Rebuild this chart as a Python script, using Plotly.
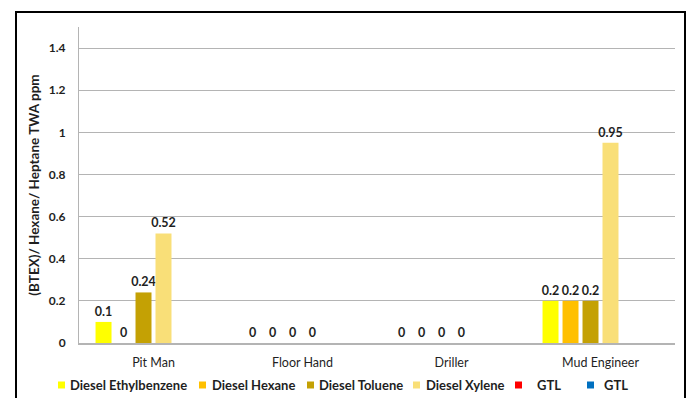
import plotly.graph_objects as go

# Job roles along the x axis
roles = ["Pit Man", "Floor Hand", "Driller", "Mud Engineer"]

# Time-weighted average exposure (ppm) per series
diesel_ethylbenzene = [0.1, 0, 0, 0.2]
diesel_hexane = [0, 0, 0, 0.2]
diesel_toluene = [0.24, 0, 0, 0.2]
diesel_xylene = [0.52, 0, 0, 0.95]
gtl_red = [None, None, None, None]
gtl_blue = [None, None, None, None]

y_ticks = [0, 0.2, 0.4, 0.6, 0.8, 1, 1.2, 1.4]

series = [
    ("Diesel Ethylbenzene", diesel_ethylbenzene, "#FFFF00"),
    ("Diesel Hexane", diesel_hexane, "#FFC000"),
    ("Diesel Toluene", diesel_toluene, "#C4A104"),
    ("Diesel Xylene", diesel_xylene, "#F9DF78"),
    ("GTL", gtl_red, "#FF0000"),
    ("GTL", gtl_blue, "#0070C0"),
]

FONT = "Lato, 'Open Sans', sans-serif"
TEXT = "#1F1F1F"
GRID = "#B4B4B4"

W, H = 691, 398
ML, MR, MT, MB = 79, 16, 27, 55
PW, PH = W - ML - MR, H - MT - MB


def px_x(px):
    """Horizontal pixel position -> paper fraction."""
    return (px - ML) / PW


def px_y(py):
    """Vertical pixel position (from top) -> paper fraction."""
    return (H - MB - py) / PH


fig = go.Figure()
for name, vals, color in series:
    labels = [("" if v is None else f"{v:g}") for v in vals]
    fig.add_trace(go.Bar(
        x=roles, y=vals, name=name,
        marker=dict(color=color, line=dict(width=0)),
        text=labels, textposition="outside",
        textfont=dict(family=FONT, size=12.5, color=TEXT, weight="bold"),
        constraintext="none", cliponaxis=False, showlegend=False,
    ))

fig.update_layout(
    width=W, height=H,
    margin=dict(l=ML, r=MR, t=MT, b=MB, autoexpand=False),
    paper_bgcolor="white", plot_bgcolor="white",
    barmode="group", bargap=0.195, bargroupgap=0.2,
    font=dict(family=FONT, color=TEXT),
    showlegend=False,
)

fig.update_yaxes(
    range=[0, 1.5], tickvals=y_ticks, ticktext=[f"{t:g}" for t in y_ticks],
    showgrid=True, gridcolor=GRID, gridwidth=1,
    zeroline=False, showline=True, linecolor=GRID, linewidth=1,
    ticks="", ticklabelstandoff=10,
    tickfont=dict(family=FONT, size=12, color=TEXT, weight="bold"),
    title=dict(text="(BTEX)/ Hexane/ Heptane TWA ppm", standoff=6,
               font=dict(family=FONT, size=13.5, color=TEXT, weight="bold")),
)
fig.update_xaxes(
    showline=True, linecolor=GRID, linewidth=2, ticks="",
    ticklabelstandoff=7,
    tickfont=dict(family=FONT, size=12.5, color=TEXT),
)

# Legend row along the bottom: swatch + label for each series
legend_swatch_left = [58, 199, 307, 413, 515, 587]
legend_text_left = [68, 210, 317, 424, 535, 602]
legend_row_y = 385
for (name, _, color), sx, tx in zip(series, legend_swatch_left, legend_text_left):
    fig.add_shape(type="rect", xref="paper", yref="paper",
                  x0=px_x(sx), x1=px_x(sx + 7),
                  y0=px_y(legend_row_y + 3.5), y1=px_y(legend_row_y - 3.5),
                  line=dict(width=0), fillcolor=color)
    fig.add_annotation(text=name, xref="paper", yref="paper",
                       x=px_x(tx), y=px_y(legend_row_y),
                       xanchor="left", yanchor="middle", showarrow=False,
                       font=dict(family=FONT, size=13, color=TEXT, weight="bold"))

# Outer frame around the chart
fig.add_shape(type="rect", xref="paper", yref="paper",
              x0=px_x(16), x1=px_x(685), y0=px_y(420), y1=px_y(12),
              line=dict(color="black", width=2), fillcolor="rgba(0,0,0,0)",
              layer="above")

fig.write_html("out.html")
